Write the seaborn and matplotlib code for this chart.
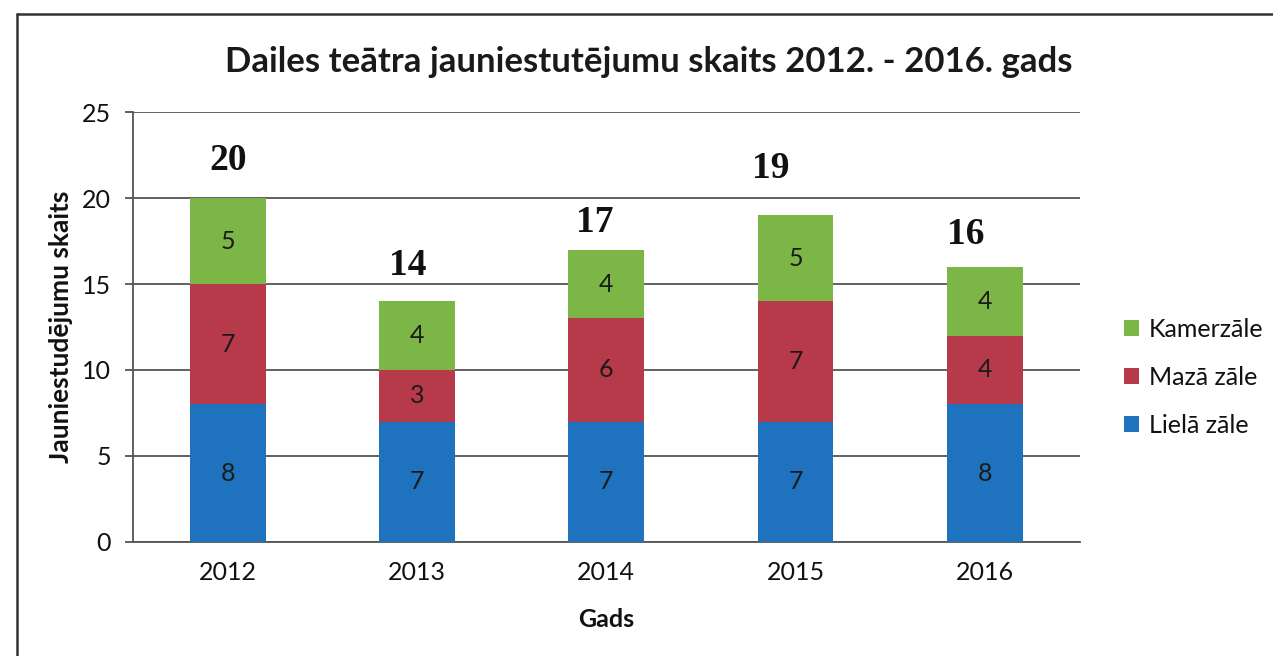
import numpy as np
import pandas as pd
import matplotlib
matplotlib.use("Agg")
import matplotlib.pyplot as plt
import seaborn as sns
from matplotlib.lines import Line2D
from matplotlib.patches import Patch

sns.set_style("white")
plt.rcParams['font.family'] = ['Lato', 'DejaVu Sans']
plt.rcParams['text.color'] = '#111111'
plt.rcParams['xtick.color'] = '#111111'
plt.rcParams['ytick.color'] = '#111111'
plt.rcParams['axes.labelcolor'] = '#111111'

# data
years = ['2012', '2013', '2014', '2015', '2016']
liela = [8, 7, 7, 7, 8]
maza = [7, 3, 6, 7, 4]
kamer = [5, 4, 4, 5, 4]
series_names = ['Lielā zāle', 'Mazā zāle', 'Kamerzāle']
colors = ['#1f72bd', '#b73a4b', '#7cb646']

df = pd.DataFrame({'year': years, 'Lielā zāle': liela,
                   'Mazā zāle': maza, 'Kamerzāle': kamer})
df['total'] = df[series_names].sum(axis=1)

fig = plt.figure(figsize=(12.73, 6.56), dpi=100)
ax = fig.add_axes([0.1045, 0.174, 0.7435, 0.655])

# stacked bars: draw each layer with its bottom
bottom = np.zeros(len(df))
for name, col in zip(series_names, colors):
    sns.barplot(data=df, x='year', y=name, color=col, width=0.4,
                bottom=bottom, ax=ax, zorder=3, linewidth=0, saturation=1)
    for i, v in enumerate(df[name]):
        ax.text(i, bottom[i] + v / 2, str(v), ha='center', va='center',
                fontsize=18, color='#1a1a1a', zorder=4)
    bottom = bottom + df[name].values

# totals in bold serif (hand-placed in the original)
nudge_x = [0, -0.05, -0.06, -0.13, -0.10]
nudge_y = [2.2, 2.1, 1.6, 2.7, 1.9]
for i, t in enumerate(df['total']):
    ax.text(i + nudge_x[i], t + nudge_y[i], str(t), ha='center', va='center',
            fontsize=27, fontweight='bold', family='Liberation Serif',
            color='#111111', zorder=4)

ax.set_ylim(0, 25)
ax.set_xlim(-0.5, 4.5)
ax.set_yticks([0, 5, 10, 15, 20, 25])
ax.yaxis.grid(True, color='#555555', linewidth=1.3, zorder=0)
ax.set_axisbelow(True)
for s in ['top', 'right']:
    ax.spines[s].set_visible(False)
ax.spines['left'].set_color('#555555')
ax.spines['bottom'].set_color('#555555')
ax.spines['left'].set_linewidth(1.3)
ax.spines['bottom'].set_linewidth(1.3)

# category ticks between bars
ax.set_xticks(np.arange(len(years)))
ax.set_xticklabels(years)
ax.set_xticks(np.arange(-0.5, len(years)), minor=True)
ax.tick_params(axis='x', which='major', length=0, pad=14, labelsize=18)
ax.tick_params(axis='x', which='minor', length=7, width=1.3, color='#555555',
               direction='out')
ax.tick_params(axis='y', length=6, width=1.3, color='#555555',
               labelsize=18, pad=10, left=True)

ax.set_xlabel('Gads', fontsize=18, fontweight='bold', labelpad=17)
ax.set_ylabel('Jauniestudējumu skaits', fontsize=19, fontweight='bold',
              labelpad=6)

fig.text(0.51, 0.905, 'Dailes teātra jauniestutējumu skaits 2012. - 2016. gads',
         ha='center', va='center', fontsize=25, fontweight='bold',
         color='#1a1a1a')

handles = [Patch(facecolor=c, edgecolor='none') for c in colors[::-1]]
fig.legend(handles, series_names[::-1], loc='center left',
           bbox_to_anchor=(0.865, 0.425), frameon=False, fontsize=18,
           handlelength=0.6, handleheight=0.6, handletextpad=0.4,
           labelspacing=1.0)

# page frame lines (top and left)
fig.add_artist(Line2D([17 / 1273, 1], [1 - 14 / 656] * 2,
                      transform=fig.transFigure, color='#333333', linewidth=1.8))
fig.add_artist(Line2D([17 / 1273] * 2, [0, 1 - 14 / 656],
                      transform=fig.transFigure, color='#333333', linewidth=1.8))

fig.savefig('out.png', dpi=100)
